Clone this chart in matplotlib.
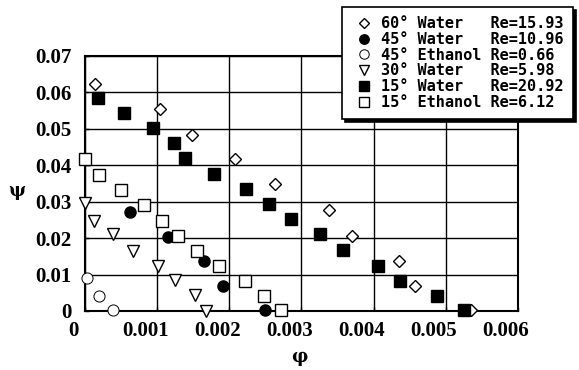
import matplotlib
matplotlib.use("Agg")
import matplotlib.pyplot as plt
from matplotlib.transforms import ScaledTranslation

# ── data ─────────────────────────────────────────────────────────────────────

x_ticks = [0, 0.001, 0.002, 0.003, 0.004, 0.005, 0.006]
x_tick_labels = ["0", "0.001", "0.002", "0.003", "0.004", "0.005", "0.006"]
y_ticks = [0, 0.01, 0.02, 0.03, 0.04, 0.05, 0.06, 0.07]
y_tick_labels = ["0", "0.01", "0.02", "0.03", "0.04", "0.05", "0.06", "0.07"]

w60_phi = [0.00013, 0.00103, 0.00148, 0.00208, 0.00263, 0.00338, 0.00370,
           0.00435, 0.00457, 0.00535]
w60_psi = [0.0623, 0.0554, 0.0484, 0.0417, 0.0348, 0.0277, 0.0207,
           0.0138, 0.0069, 0.0003]

w45_phi = [0.00062, 0.00115, 0.00165, 0.00191, 0.00249]
w45_psi = [0.0273, 0.0204, 0.0138, 0.0069, 0.0003]

e45_phi = [0.00002, 0.00019, 0.00039]
e45_psi = [0.0090, 0.0041, 0.0003]

w30_phi = [0.0, 0.00012, 0.00038, 0.00066, 0.00101, 0.00124, 0.00152, 0.00168]
w30_psi = [0.0296, 0.0248, 0.0212, 0.0166, 0.0124, 0.0085, 0.0044, 0.0001]

w15_phi = [0.00018, 0.00054, 0.00094, 0.00123, 0.00139, 0.00178, 0.00223,
           0.00255, 0.00285, 0.00325, 0.00357, 0.00406, 0.00437, 0.00488,
           0.00525]
w15_psi = [0.0584, 0.0543, 0.0502, 0.0461, 0.0420, 0.0377, 0.0336,
           0.0294, 0.0252, 0.0212, 0.0168, 0.0124, 0.0083, 0.0042,
           0.0003]

e15_phi = [0.0, 0.00019, 0.00050, 0.00081, 0.00107, 0.00128, 0.00155,
           0.00186, 0.00222, 0.00248, 0.00272]
e15_psi = [0.0417, 0.0374, 0.0332, 0.0291, 0.0248, 0.0206, 0.0165,
           0.0123, 0.0083, 0.0042, 0.0002]

labels = [
    "60° Water   Re=15.93",
    "45° Water   Re=10.96",
    "45° Ethanol Re=0.66",
    "30° Water   Re=5.98",
    "15° Water   Re=20.92",
    "15° Ethanol Re=6.12",
]

# ── figure ───────────────────────────────────────────────────────────────────

fig = plt.figure(figsize=(5.79, 3.70), dpi=100)
ax = fig.add_axes([0.1473, 0.1595, 0.7468, 0.6892])

ax.set_xlim(0, 0.006)
ax.set_ylim(0, 0.07)

ax.grid(True, color="black", linewidth=1.0, zorder=0)
ax.set_axisbelow(True)
for spine in ax.spines.values():
    spine.set_linewidth(1.5)

common = dict(linestyle="none", clip_on=False, zorder=3)
ax.plot(w60_phi, w60_psi, marker="D", ms=6.5, mfc="white", mec="black", mew=1.0,
        label=labels[0], **common)
ax.plot(w45_phi, w45_psi, marker="o", ms=8, mfc="black", mec="black",
        label=labels[1], **common)
ax.plot(e45_phi, e45_psi, marker="o", ms=8, mfc="white", mec="black", mew=0.7,
        label=labels[2], **common)
ax.plot(w30_phi, w30_psi, marker="v", ms=8, mfc="white", mec="black", mew=1.0,
        label=labels[3], **common)
ax.plot(w15_phi, w15_psi, marker="s", ms=8, mfc="black", mec="black",
        label=labels[4], **common)
ax.plot(e15_phi, e15_psi, marker="s", ms=8, mfc="white", mec="black", mew=1.0,
        label=labels[5], **common)

# ── ticks ────────────────────────────────────────────────────────────────────

tick_font = dict(family="Liberation Serif", weight="bold", size=15)
ax.set_xticks(x_ticks)
ax.set_xticklabels(x_tick_labels, **tick_font)
ax.set_yticks(y_ticks)
ax.set_yticklabels(y_tick_labels, **tick_font)
ax.tick_params(direction="in", length=3, width=1, pad=7)
ax.tick_params(axis="y", pad=10)

# x labels sit a little left of their ticks in the original
shift = ScaledTranslation(-12 / 100, 0, fig.dpi_scale_trans)
for lab in ax.get_xticklabels():
    lab.set_transform(lab.get_transform() + shift)

# axis symbols
fig.text(17 / 579, 1 - 191 / 370, "ψ", ha="center", va="center",
         family="DejaVu Serif", weight="bold", fontsize=13)
fig.text(299 / 579, 1 - 357 / 370, "φ", ha="center", va="center",
         family="DejaVu Serif", weight="bold", fontsize=13)

# ── legend ───────────────────────────────────────────────────────────────────

leg = ax.legend(
    loc="upper right",
    bbox_to_anchor=(573 / 579, 1 - 7 / 370),
    bbox_transform=fig.transFigure,
    borderaxespad=0,
    prop=dict(family="DejaVu Sans Mono", weight="bold", size=11),
    handlelength=1.6,
    handletextpad=0.35,
    labelspacing=0.05,
    borderpad=0.6,
    fancybox=False,
    framealpha=1,
    edgecolor="black",
    shadow={"color": "black", "alpha": 1},
    markerscale=0.85,
)
leg.get_frame().set_linewidth(1.2)
leg.set_zorder(10)

fig.savefig("out.png", dpi=100, facecolor="white")
